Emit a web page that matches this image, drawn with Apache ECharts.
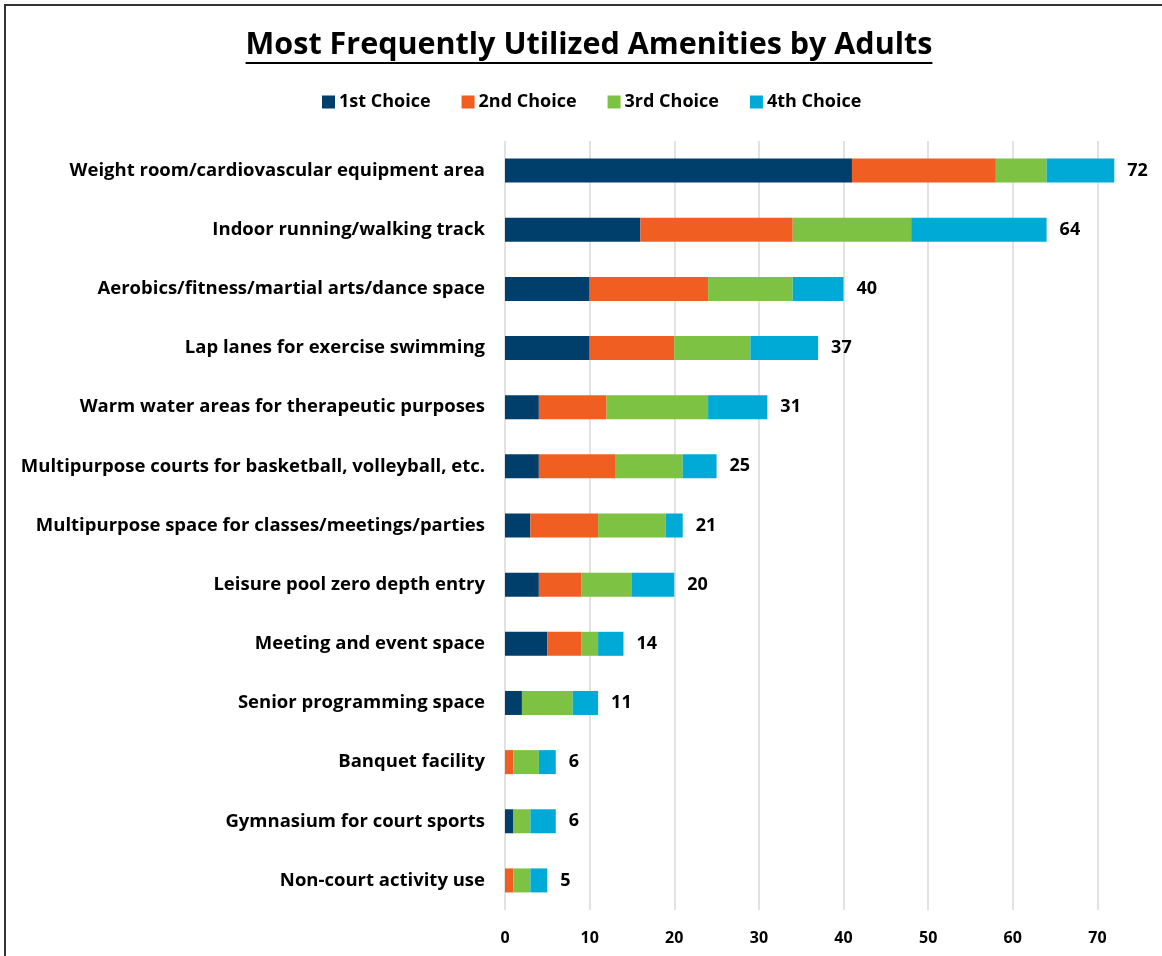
<!DOCTYPE html>
<html>
<head>
<meta charset="utf-8">
<script src="https://cdn.jsdelivr.net/npm/echarts@6/dist/echarts.min.js"></script>
<style>
  html, body { margin: 0; padding: 0; background: #fff; }
  #chart { width: 1162px; height: 956px; }
</style>
</head>
<body>
<div id="chart"></div>
<script>
// amenities, top row first
var amenities = [
  'Weight room/cardiovascular equipment area',
  'Indoor running/walking track',
  'Aerobics/fitness/martial arts/dance space',
  'Lap lanes for exercise swimming',
  'Warm water areas for therapeutic purposes',
  'Multipurpose courts for basketball, volleyball, etc.',
  'Multipurpose space for classes/meetings/parties',
  'Leisure pool zero depth entry',
  'Meeting and event space',
  'Senior programming space',
  'Banquet facility',
  'Gymnasium for court sports',
  'Non-court activity use'
];
var choiceNames = ['1st Choice', '2nd Choice', '3rd Choice', '4th Choice'];
var firstChoice  = [41, 16, 10, 10, 4, 4, 3, 4, 5, 2, 0, 1, 0];
var secondChoice = [17, 18, 14, 10, 8, 9, 8, 5, 4, 0, 1, 0, 1];
var thirdChoice  = [6, 14, 10, 9, 12, 8, 8, 6, 2, 6, 3, 2, 2];
var fourthChoice = [8, 16, 6, 8, 7, 4, 2, 5, 3, 3, 2, 3, 2];
var xTicks = [0, 10, 20, 30, 40, 50, 60, 70, 80];

var colors = ['#003f6b', '#f15e22', '#7dc242', '#00aad6'];
var font = '"Open Sans", sans-serif';
var titleText = 'Most Frequently Utilized Amenities by Adults';
var titleSize = 30.5;
var titleCenter = 589;

var values = [firstChoice, secondChoice, thirdChoice, fourthChoice];
var totals = amenities.map(function (a, i) {
  return firstChoice[i] + secondChoice[i] + thirdChoice[i] + fourthChoice[i];
});

// width of the title, for the underline
var ctx = document.createElement('canvas').getContext('2d');
ctx.font = 'bold ' + titleSize + 'px ' + font;
var titleW = ctx.measureText(titleText).width;

var chart = echarts.init(document.getElementById('chart'));

var series = values.map(function (vals, k) {
  var s = {
    name: choiceNames[k],
    type: 'bar',
    stack: 'total',
    barWidth: 24,
    clip: false,
    itemStyle: { color: colors[k] },
    data: vals
  };
  if (k === 3) {
    // total at the end of each bar
    s.label = {
      show: true,
      position: 'right',
      distance: 13,
      color: '#000',
      fontFamily: font,
      fontWeight: 'bold',
      fontSize: 18,
      formatter: function (p) { return totals[p.dataIndex]; }
    };
  }
  return s;
});

chart.setOption({
  animation: false,
  title: {
    text: titleText,
    left: titleCenter - titleW / 2 - 5,
    top: 25,
    textStyle: { fontFamily: font, fontWeight: 'bold', fontSize: titleSize, color: '#000' }
  },
  legend: {
    top: 88,
    left: 317,
    itemWidth: 13,
    itemHeight: 13,
    itemGap: 31,
    icon: 'rect',
    textStyle: { fontFamily: font, fontWeight: 'bold', fontSize: 18, color: '#000', padding: [0, 0, 0, -1] },
    data: choiceNames
  },
  grid: { left: 505, top: 141, width: 677, height: 769, outerBoundsMode: 'none' },
  xAxis: {
    type: 'value',
    min: 0,
    max: 80,
    interval: 10,
    axisLine: { show: false },
    axisTick: { show: false },
    splitLine: { lineStyle: { color: '#d9d9d9', width: 1.5 } },
    axisLabel: {
      margin: 20,
      fontFamily: font,
      fontWeight: 'bold',
      fontSize: 16,
      color: '#000',
      formatter: function (v) { return xTicks.indexOf(v) >= 0 ? String(v) : ''; }
    }
  },
  yAxis: {
    type: 'category',
    inverse: true,
    data: amenities,
    axisLine: { show: false },
    axisTick: { show: false },
    axisLabel: {
      margin: 20,
      fontFamily: font,
      fontWeight: 'bold',
      fontSize: 18.5,
      color: '#000'
    }
  },
  graphic: [
    {
      type: 'polyline',
      shape: { points: [[5, 956], [5, 5], [1162, 5]] },
      style: { stroke: '#333', lineWidth: 2, fill: null }
    },
    {
      type: 'rect',
      shape: { x: titleCenter - titleW / 2, y: 62, width: titleW, height: 2 },
      style: { fill: '#000' }
    }
  ],
  series: series
});
</script>
</body>
</html>
